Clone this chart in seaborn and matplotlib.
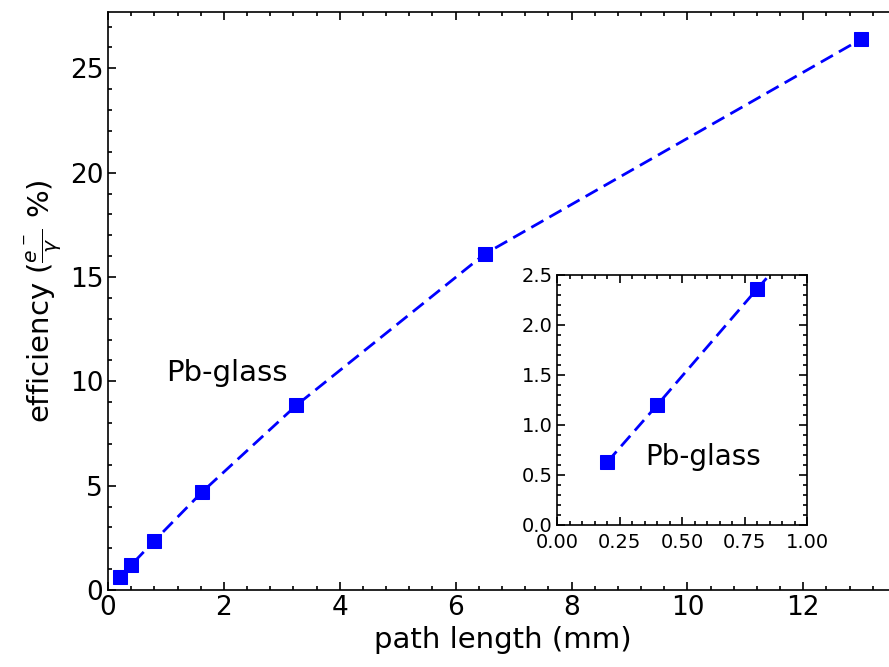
import matplotlib
matplotlib.use("Agg")
import matplotlib.pyplot as plt
from matplotlib.ticker import AutoMinorLocator, MultipleLocator
import seaborn as sns

# Data
path_length = [0.2, 0.4, 0.8, 1.625, 3.25, 6.5, 13.0]
efficiency = [0.63, 1.2, 2.36, 4.7, 8.85, 16.1, 26.4]

sns.set_style("ticks", {'axes.edgecolor': 'black', 'text.color': 'black',
                        'axes.labelcolor': 'black', 'xtick.color': 'black',
                        'ytick.color': 'black'})
plt.rcParams['font.family'] = ['DejaVu Sans']

fig = plt.figure(figsize=(8.89, 6.67), dpi=100)

# Main axes (right edge runs past the figure, as in the reference)
ax = fig.add_axes([0.1215, 0.1154, 0.889, 0.8666])
sns.lineplot(x=path_length, y=efficiency, ax=ax, color='blue', marker='s',
             linestyle='--', linewidth=2, markersize=10, markeredgecolor='blue')
ax.lines[0].set_dashes([5, 2.5])
ax.set_xlim(0, 13.64)
ax.set_ylim(0, 27.7)
ax.xaxis.set_major_locator(MultipleLocator(2))
ax.yaxis.set_major_locator(MultipleLocator(5))
ax.xaxis.set_minor_locator(AutoMinorLocator(5))
ax.yaxis.set_minor_locator(AutoMinorLocator(5))
ax.tick_params(which='both', direction='in', top=True, right=True, width=1.2)
ax.tick_params(which='major', length=6, labelsize=19)
ax.tick_params(which='minor', length=3)
for s in ax.spines.values():
    s.set_linewidth(1.2)
ax.set_xlabel('path length (mm)', fontsize=21)
ax.set_ylabel(r'efficiency ($\frac{e^-}{\gamma}$ %)', fontsize=21)
ax.text(1.0, 10.0, 'Pb-glass', fontsize=21)

# Inset zoom on the first points
axin = fig.add_axes([0.627, 0.213, 0.281, 0.375])
sns.lineplot(x=path_length, y=efficiency, ax=axin, color='blue', marker='s',
             linestyle='--', linewidth=2, markersize=10, markeredgecolor='blue')
axin.lines[0].set_dashes([5, 2.5])
axin.set_xlim(0, 1)
axin.set_ylim(0, 2.5)
axin.xaxis.set_major_locator(MultipleLocator(0.25))
axin.yaxis.set_major_locator(MultipleLocator(0.5))
axin.xaxis.set_minor_locator(AutoMinorLocator(5))
axin.yaxis.set_minor_locator(AutoMinorLocator(5))
axin.tick_params(which='both', direction='in', top=True, right=True, width=1.2)
axin.tick_params(which='major', length=6, labelsize=14)
axin.tick_params(which='minor', length=3)
axin.tick_params(axis='x', which='major', pad=6)
for s in axin.spines.values():
    s.set_linewidth(1.2)
axin.text(0.35, 0.6, 'Pb-glass', fontsize=20)

plt.savefig('out.png', dpi=100)
